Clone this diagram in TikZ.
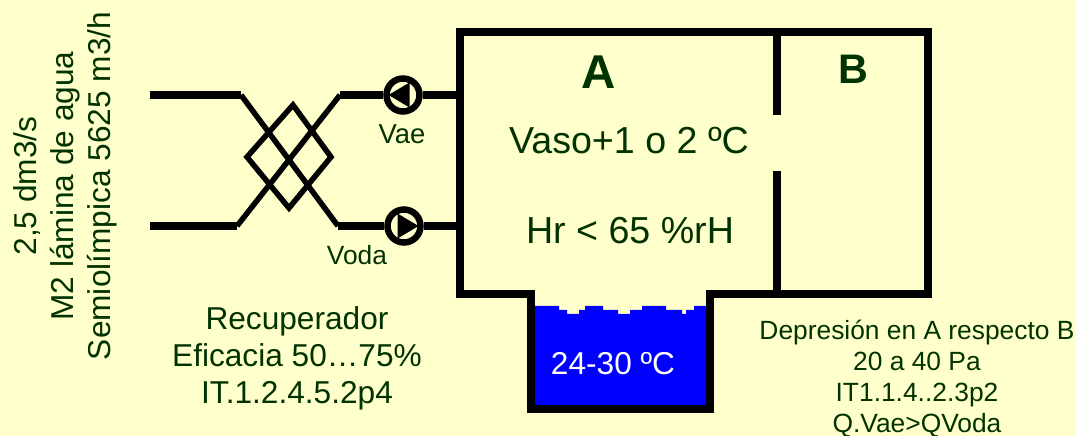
\documentclass[tikz,border=0pt]{standalone}
\usepackage{fontspec}
\setmainfont{Liberation Sans}
\usepackage{tikz}
\usetikzlibrary{positioning,calc}
\definecolor{paper}{HTML}{FFFFCC}
\definecolor{label}{HTML}{003300}
\tikzset{
  wall/.style={draw=black,line width=0.16cm,line join=miter},
  pipe/.style={draw=black,line width=0.16cm},
  core/.style={draw=black,line width=0.11cm,line join=miter},
  fan/.style={circle,draw=black,fill=paper,line width=0.13cm,minimum size=0.66cm,inner sep=0pt},
  big/.style={text=label,font=\fontsize{21.4}{25}\selectfont},
  small/.style={text=label,font=\fontsize{15}{17.6}\selectfont,align=center},
  tag/.style={text=label,font=\fontsize{15.6}{18}\selectfont},
  mid/.style={text=label,font=\fontsize{18}{21}\selectfont,align=center}
}
\begin{document}
\begin{tikzpicture}
  \fill[paper] (0,0) rectangle (21.52,8.72);
  \useasboundingbox (0,0) rectangle (21.52,8.72);
  % water
  \fill[blue] (10.7,0.6) -- (10.7,2.6) -- (11.18,2.6) -- (11.18,2.52) -- (11.34,2.52) -- (11.34,2.44)
    -- (11.58,2.44) -- (11.58,2.52) -- (11.7,2.52) -- (11.7,2.6) -- (12.06,2.6) -- (12.06,2.52)
    -- (12.36,2.52) -- (12.36,2.44) -- (12.6,2.44) -- (12.6,2.52) -- (12.84,2.52) -- (12.84,2.6)
    -- (13.32,2.6) -- (13.32,2.52) -- (13.64,2.52) -- (13.64,2.44) -- (13.72,2.44) -- (13.72,2.52)
    -- (13.88,2.52) -- (13.88,2.6) -- (14.12,2.6) -- (14.12,0.6) -- cycle;
  % room and pool
  \draw[wall] (9.2,2.84) -- (10.62,2.84) -- (10.62,0.54) -- (14.2,0.54) -- (14.2,2.84)
    -- (18.56,2.84) -- (18.56,8.08) -- (9.2,8.08) -- cycle;
  \draw[wall] (15.54,8.08) -- (15.54,6.42);
  \draw[wall] (15.54,5.3) -- (15.54,2.84);
  % free ends and bends
  \coordinate (inA) at (3.0,6.82);
  \coordinate (inB) at (3.0,4.2);
  \coordinate (bendA) at (4.82,6.82);
  \coordinate (bendB) at (4.74,4.2);
  \coordinate (outA) at (6.8,6.82);
  \coordinate (outB) at (6.76,4.2);
  \coordinate (wallA) at (9.2,6.82);
  \coordinate (wallB) at (9.2,4.2);
  \coordinate (top) at (5.86,6.62);
  \coordinate (left) at (4.94,5.58);
  \coordinate (bottom) at (5.78,4.56);
  \coordinate (right) at (6.62,5.58);
  % fans
  \node[fan] (vae) at (8.06,6.82) {};
  \node[fan] (voda) at (8.08,4.2) {};
  \fill (vae) ++(0.13,0.25) -- ++(0,-0.5) -- ++(-0.42,0.25) -- cycle;
  \fill (voda) ++(-0.13,0.25) -- ++(0,-0.5) -- ++(0.42,0.25) -- cycle;
  % pipes
  \draw[pipe] (inA) -- (bendA);
  \draw[pipe] (inB) -- (bendB);
  \draw[pipe] (outA) -- (vae);
  \draw[pipe] (outB) -- (voda);
  \draw[pipe] (vae) -- (wallA);
  \draw[pipe] (voda) -- (wallB);
  % recuperator
  \draw[core] (bendA) -- (outB);
  \draw[core] (bendB) -- (outA);
  \draw[core] (top) -- (left) -- (bottom) -- (right) -- cycle;
  % labels
  \node[text=label,font=\fontsize{27}{30}\selectfont\bfseries] (roomA) at (11.98,7.28) {A};
  \node[text=label,font=\fontsize{23.5}{26}\selectfont\bfseries] (roomB) at (17.06,7.34) {B};
  \node[big] (vaso) at (12.58,5.9) {Vaso+1 o 2 ºC};
  \node[big] (hr) at (12.6,4.1) {Hr < 65 \%rH};
  \node[tag] (vaetext) at (8.04,6.04) {Vae};
  \node[small] (vodatext) at (7.14,3.62) {Voda};
  \node[mid,text=white] (temp) at (12.26,1.44) {24-30 ºC};
  \node[mid] (recup) at (5.94,1.55) {Recuperador\\Eficacia 50…75\%\\IT.1.2.4.5.2p4};
  \node[small,inner sep=0pt] (depr) at (18.34,1.14) {Depresión en A respecto B\\20 a 40 Pa\\IT1.1.4..2.3p2\\Q.Vae>QVoda};
  \node[mid,rotate=90] (flow) at (1.3,5.0) {2,5 dm3/s\\M2 lámina de agua\\Semiolímpica 5625 m3/h};
\end{tikzpicture}
\end{document}
